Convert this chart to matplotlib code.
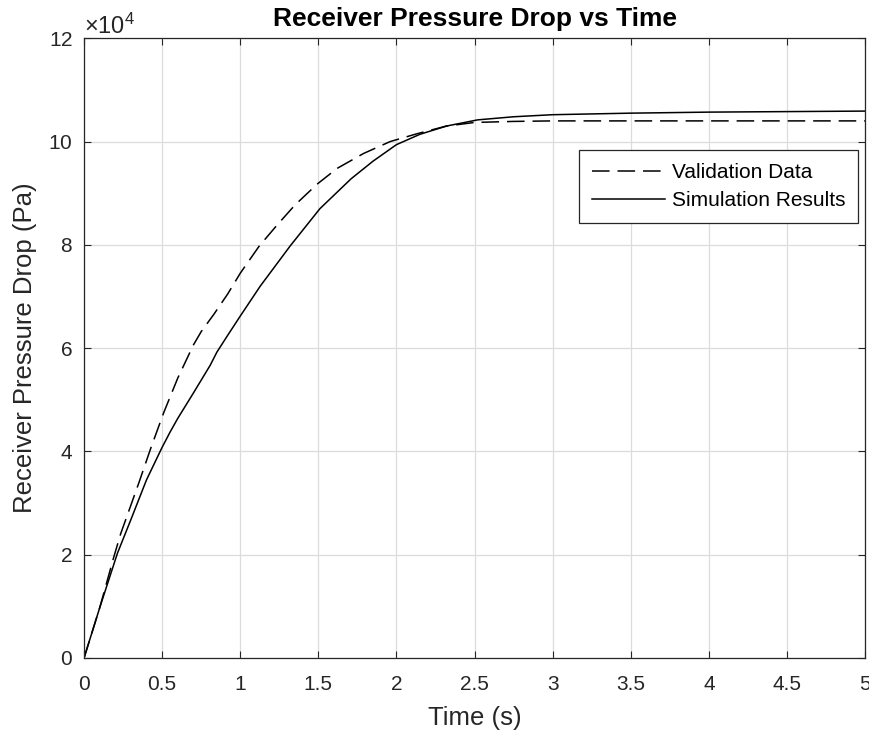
import numpy as np
import matplotlib
matplotlib.use("Agg")
import matplotlib.pyplot as plt

plt.rcParams['font.family'] = ['Liberation Sans', 'DejaVu Sans']
plt.rcParams['mathtext.fontset'] = 'custom'
plt.rcParams['mathtext.rm'] = 'Liberation Sans'
plt.rcParams['mathtext.it'] = 'Liberation Sans'

# Validation data (time s, pressure drop in 1e4 Pa)
t_val = [0, 0.1, 0.19, 0.235, 0.30, 0.353, 0.427, 0.51, 0.6, 0.70, 0.75, 0.83, 0.92,
         1.0, 1.12, 1.235, 1.35, 1.49, 1.62, 1.79, 1.96, 2.13, 2.32, 2.5, 2.75,
         3.0, 3.5, 4.0, 4.5, 5.0]
p_val = [0, 0.97, 1.95, 2.41, 2.96, 3.41, 4.06, 4.75, 5.42, 6.06, 6.32, 6.65, 7.05,
         7.45, 7.97, 8.38, 8.77, 9.17, 9.48, 9.77, 10.0, 10.15, 10.3, 10.37, 10.39,
         10.4, 10.4, 10.4, 10.4, 10.4]

# Simulation results
t_sim = [0, 0.1, 0.214, 0.3, 0.4, 0.5, 0.55, 0.6, 0.7, 0.808, 0.85, 0.92, 1.0, 1.128,
         1.32, 1.51, 1.71, 1.85, 2.0, 2.15, 2.32, 2.52, 2.75, 3.0, 3.5, 4.0, 4.5, 5.0]
p_sim = [0, 0.97, 2.03, 2.68, 3.45, 4.08, 4.37, 4.64, 5.13, 5.67, 5.92, 6.25, 6.62, 7.2,
         7.98, 8.7, 9.28, 9.62, 9.94, 10.14, 10.3, 10.42, 10.48, 10.52, 10.55, 10.57,
         10.58, 10.59]

fig = plt.figure(figsize=(8.7, 7.36), dpi=100)
ax = fig.add_axes([0.0966, 0.106, 0.8977, 0.842])

ax.plot(t_val, np.array(p_val) * 1e4, color='black', lw=1.1, dashes=(11.5, 5.2),
        label='Validation Data')
ax.plot(t_sim, np.array(p_sim) * 1e4, color='black', lw=1.1, label='Simulation Results')

ax.set_xlim(0, 5)
ax.set_ylim(0, 12e4)
ax.set_xticks(np.arange(0, 5.01, 0.5))
ax.set_xticklabels(['0', '0.5', '1', '1.5', '2', '2.5', '3', '3.5', '4', '4.5', '5'])
ax.set_yticks(np.arange(0, 12.01e4, 2e4))
ax.ticklabel_format(style='sci', axis='y', scilimits=(4, 4), useMathText=True)
ax.yaxis.get_offset_text().set_fontsize(17)
ax.yaxis.get_offset_text().set_color('#262626')

ax.grid(True, color='#dcdcdc', lw=0.9)
ax.set_axisbelow(True)
ax.tick_params(direction='in', top=True, right=True, labelsize=15, length=5,
               width=0.8, colors='#262626')
ax.tick_params(axis='x', pad=12)
ax.tick_params(axis='y', pad=8)
for s in ax.spines.values():
    s.set_color('#262626')
    s.set_linewidth(0.9)

ax.set_xlabel('Time (s)', fontsize=18.5, color='#262626', labelpad=9)
ax.set_ylabel('Receiver Pressure Drop (Pa)', fontsize=18.5, color='#262626', labelpad=8)
ax.set_title('Receiver Pressure Drop vs Time', fontsize=19, fontweight='bold', pad=9)

leg = ax.legend(loc='upper right', bbox_to_anchor=(0.991, 0.819), borderaxespad=0,
                fancybox=False, edgecolor='#262626', fontsize=15, handlelength=3.5,
                handletextpad=0.35, labelspacing=0.45, borderpad=0.6, framealpha=1)
leg.get_frame().set_linewidth(0.9)

fig.savefig('out.png', dpi=100)
